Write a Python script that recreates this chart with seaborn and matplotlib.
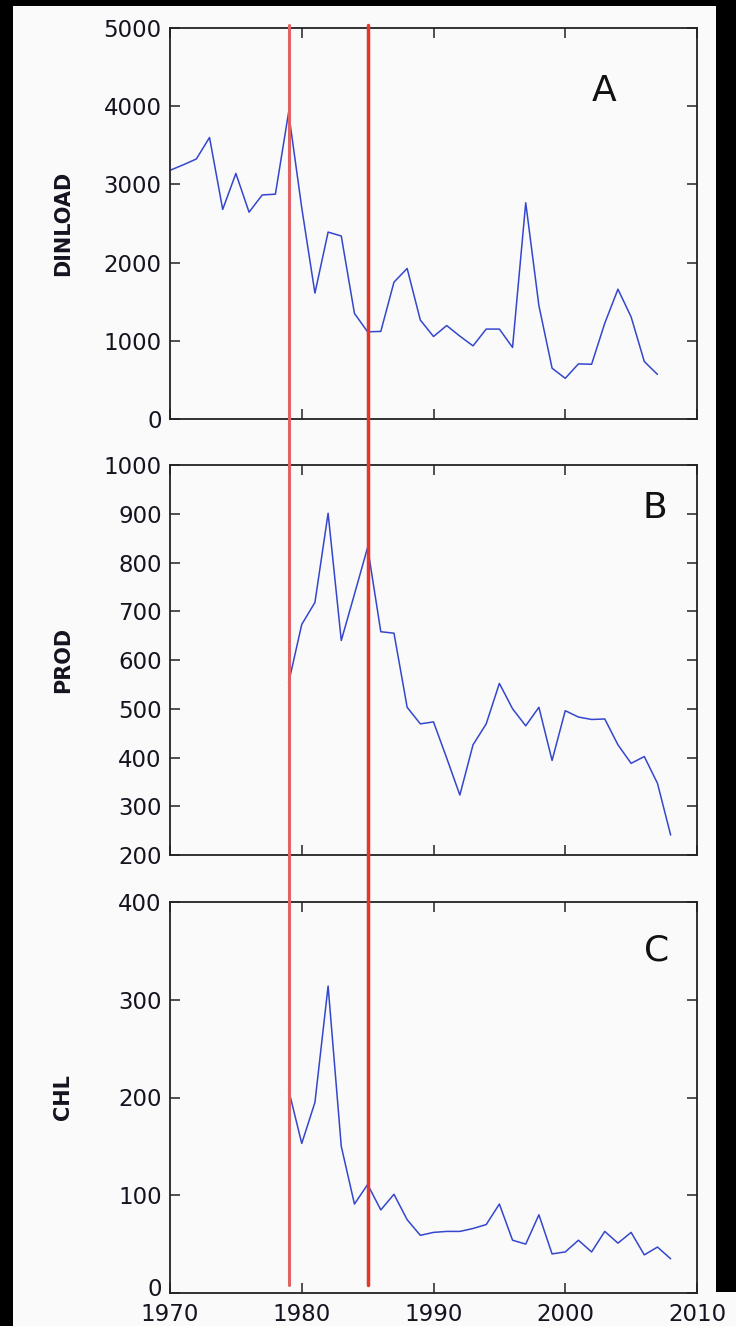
import numpy as np
import pandas as pd
import matplotlib
matplotlib.use("Agg")
import matplotlib.pyplot as plt
import seaborn as sns
from matplotlib.lines import Line2D
from matplotlib.patches import Rectangle
from matplotlib.transforms import blended_transform_factory, ScaledTranslation

# ---------------- data ----------------
years_a = list(range(1970, 2008))
dinload = [3180, 3250, 3325, 3600, 2680, 3140, 2645, 2865, 2875, 3920,
           2700, 1610, 2390, 2340, 1350, 1115, 1120, 1750, 1925, 1265,
           1055, 1195, 1060, 935, 1150, 1150, 915, 2765, 1450, 650,
           520, 705, 700, 1225, 1660, 1305, 735, 570]

years_bc = list(range(1979, 2009))
prod = [553, 673, 718, 901, 640, 735, 831, 658, 655, 503,
        469, 473, 399, 323, 426, 469, 552, 500, 465, 503,
        394, 496, 483, 478, 479, 426, 388, 402, 347, 241]
chl = [208, 153, 195, 314, 150, 91, 111, 85, 101, 75,
       59, 62, 63, 63, 66, 70, 91, 54, 50, 80,
       40, 42, 54, 42, 63, 51, 62, 39, 47, 35]

ylabels = ["DINLOAD", "PROD", "CHL"]
letters = ["A", "B", "C"]
xticks = [1970, 1980, 1990, 2000, 2010]
shift_years = [1979, 1985]

# ---------------- style ----------------
sns.set_theme(style="ticks")
plt.rcParams['font.family'] = ['DejaVu Sans']

W, H = 736, 1326
bg = '#fafafa'
blue = '#3447cc'
txt = '#141420'

fig = plt.figure(figsize=(W / 100, H / 100), dpi=100, facecolor='black')
fig.patches.append(Rectangle((13 / W, 0), (716 - 13) / W, 1 - 6 / H,
                             transform=fig.transFigure, facecolor=bg,
                             edgecolor='none', zorder=-10))
fig.patches.append(Rectangle((13 / W, 0), 1 - 13 / W, 34 / H,
                             transform=fig.transFigure, facecolor=bg,
                             edgecolor='none', zorder=-10))


def px_axes(l, t, r, b):
    return fig.add_axes([l / W, 1 - b / H, (r - l) / W, (b - t) / H])


axA = px_axes(170, 28, 697, 419)
axB = px_axes(170, 465, 697, 855)
axC = px_axes(170, 902, 697, 1293)

dfA = pd.DataFrame({"year": years_a, "val": dinload})
dfB = pd.DataFrame({"year": years_bc, "val": prod})
dfC = pd.DataFrame({"year": years_bc, "val": chl})

specs = [
    (axA, dfA, (0, 5000), np.arange(0, 5001, 1000), (0.8235, 0.839)),
    (axB, dfB, (200, 1000), np.arange(200, 1001, 100), (0.920, 0.8897)),
    (axC, dfC, (0, 400), np.arange(0, 401, 100), (0.924, 0.877)),
]

for i, (ax, df, ylim, yt, lpos) in enumerate(specs):
    ax.set_facecolor(bg)
    sns.lineplot(data=df, x="year", y="val", ax=ax, color=blue, linewidth=1.1)
    ax.set_xlim(1970, 2010)
    ax.set_ylim(*ylim)
    ax.set_xticks(xticks)
    ax.set_yticks(yt)
    ax.tick_params(direction='in', length=7, width=1.1, top=True, right=True,
                   labelsize=16.5, pad=6, colors='#222222', labelcolor=txt)
    ax.tick_params(axis='x', pad=7)
    if i < 2:
        ax.tick_params(labelbottom=False)
    ax.set_xlabel('')
    ax.set_ylabel(ylabels[i], fontsize=15, fontweight='bold', color=txt)
    ax.yaxis.set_label_coords(-0.184, 0.5)
    for s in ax.spines.values():
        s.set_color('#222222')
        s.set_linewidth(1.3)
    ax.text(lpos[0], lpos[1], letters[i], transform=ax.transAxes,
            fontsize=26, ha='center', va='center', color='#111111')

# raise the "0" label of the bottom panel a little, as in the reference
fig.canvas.draw()
zero_lab = axC.get_yticklabels()[0]
zero_lab.set_transform(zero_lab.get_transform() +
                       ScaledTranslation(0, 4 / 72, fig.dpi_scale_trans))

# vertical regime-shift lines across all panels
tr = blended_transform_factory(axC.transData, fig.transFigure)
line_colors = ['#e06464', '#e8352a']
line_widths = [2.2, 2.5]
for yr, c, lw in zip(shift_years, line_colors, line_widths):
    fig.add_artist(Line2D([yr, yr], [1 - 1285 / H, 1 - 25 / H], transform=tr,
                          color=c, linewidth=lw, zorder=5))

fig.savefig("out.png", dpi=100, facecolor=fig.get_facecolor())
